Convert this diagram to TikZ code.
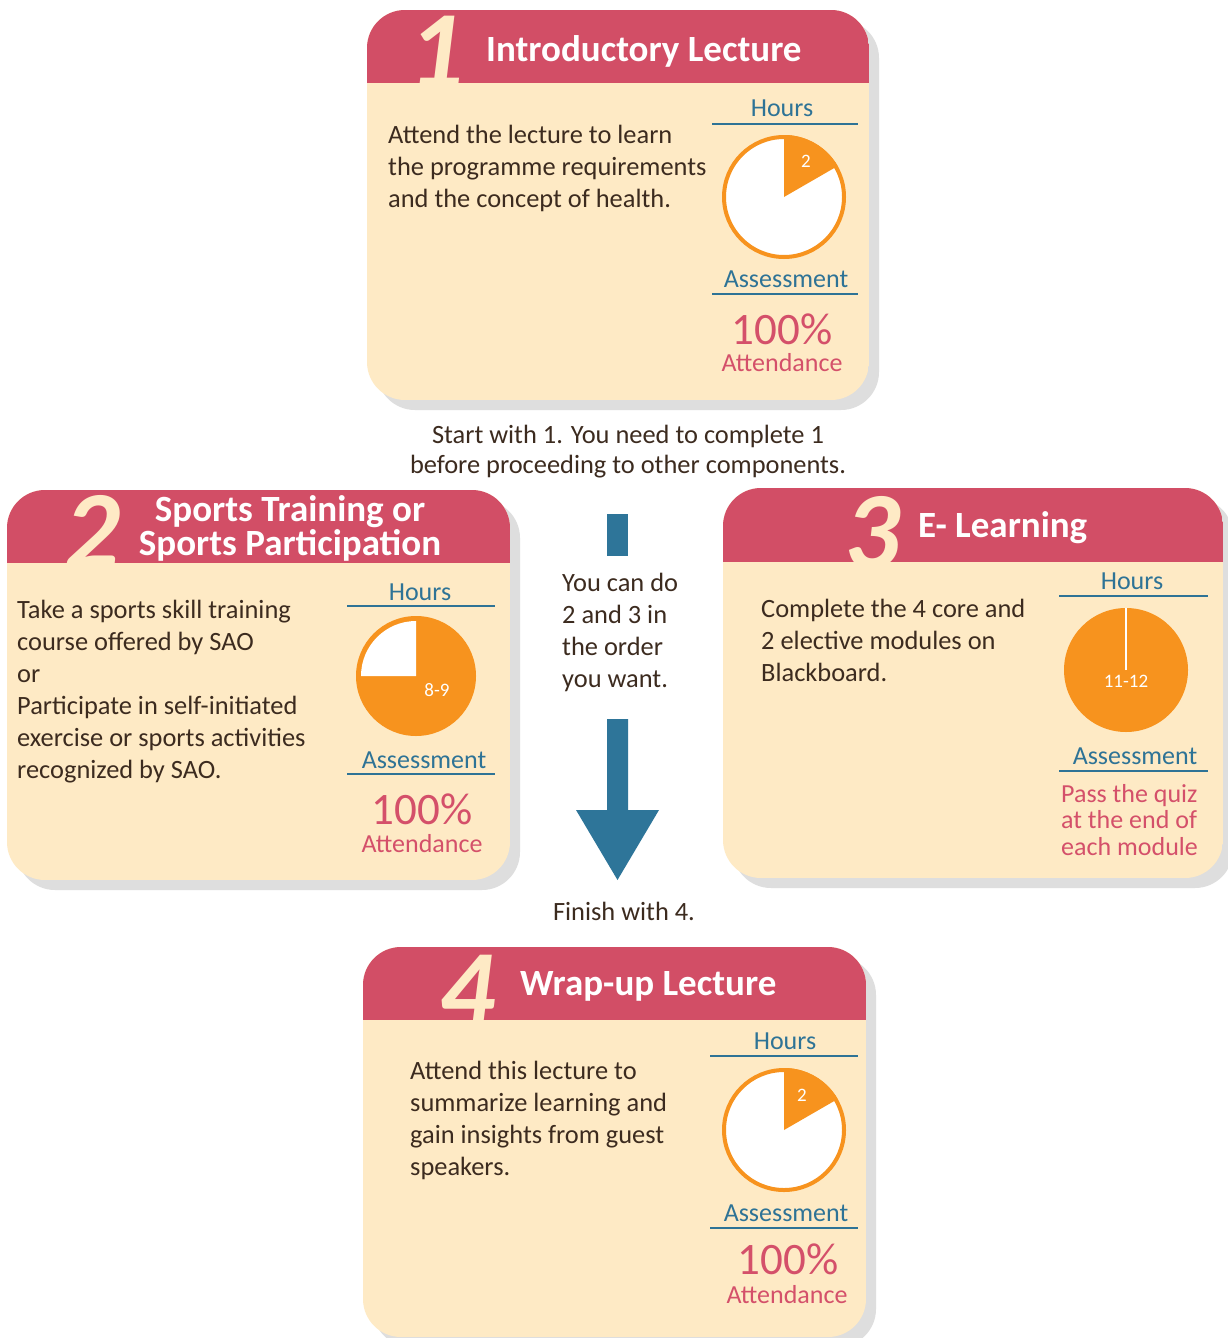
\documentclass[tikz,border=0pt]{standalone}
\usepackage{fontspec}
\setmainfont{Carlito}
\definecolor{headc}{RGB}{210,78,102}
\definecolor{creamc}{RGB}{254,234,197}
\definecolor{shadowc}{RGB}{222,222,222}
\definecolor{bluec}{RGB}{46,115,150}
\definecolor{pinkc}{RGB}{212,80,106}
\definecolor{orangec}{RGB}{247,147,30}
\definecolor{darkc}{RGB}{60,43,31}
\definecolor{arrowc}{RGB}{46,117,153}
\newcommand\mycard[5]{%
  \fill[shadowc, rounded corners=38pt] ({#1+10},{#2+10}) rectangle ({#3+10},{#4+10});
  \begin{scope}
    \clip[rounded corners=38pt] (#1,#2) rectangle (#3,#4);
    \fill[creamc] (#1,#2) rectangle (#3,#4);
    \fill[headc] (#1,#2) rectangle (#3,#5);
  \end{scope}}
\tikzset{
  bignum/.style={anchor=base, inner sep=0pt, text=creamc, font=\fontsize{110}{110}\selectfont\bfseries\itshape},
  titletxt/.style={inner sep=0pt, text=white, font=\fontsize{37}{32}\selectfont\bfseries},
  bodytxt/.style={anchor=base west, inner sep=0pt, align=left, text=darkc, font=\fontsize{26.4}{32}\selectfont},
  labtxt/.style={anchor=base, inner sep=0pt, text=bluec, font=\fontsize{26}{30}\selectfont},
  pcttxt/.style={anchor=base, inner sep=0pt, text=pinkc, font=\fontsize{45}{45}\selectfont},
  atttxt/.style={anchor=base, inner sep=0pt, text=pinkc, font=\fontsize{26}{26}\selectfont},
  pielab/.style={inner sep=0pt, text=white, font=\fontsize{19}{19}\selectfont},
  uline/.style={bluec, line width=2.6pt},
}
\begin{document}
\begin{tikzpicture}[x=1pt,y=-1pt]
\useasboundingbox[fill=white] (0,0) rectangle (1227,1338);

% ---------- Card 1
\mycard{367}{10}{869}{400}{83}
\node[bignum] (n1) at (436,88) {1};
\node[titletxt, anchor=base west] (t1) at (486,62) {Introductory Lecture};
\node[bodytxt] (b1) at (388,207) {Attend the lecture to learn\\the programme requirements\\and the concept of health.};
\node[labtxt] (h1) at (782,116) {Hours};
\draw[uline] (712,124) -- (858,124);
\coordinate (c1) at (784,197);
\draw[orangec, line width=4pt, fill=white] (c1) circle[radius=60];
\fill[orangec] (c1) -- +(270:62) arc[start angle=270, end angle=330, radius=62] -- cycle;
\node[pielab] (p1) at (806,161) {2};
\node[labtxt] (a1) at (786,287) {Assessment};
\draw[uline] (712,294) -- (858,294);
\node[pcttxt] (pc1) at (782,344) {100\%};
\node[atttxt] (at1) at (782,371) {Attendance};

% ---------- middle texts
\node[anchor=base, inner sep=0pt, align=center, text=darkc, font=\fontsize{26.4}{30}\selectfont] (start) at (628,473) {Start with 1. You need to complete 1\\before proceeding to other components.};

% ---------- Card 2
\mycard{7}{490}{510}{880}{563}
\node[bignum] (n2) at (92,567) {2};
\node[titletxt, anchor=base, align=center] (t2) at (290,555) {Sports Training or\\Sports Participation};
\node[bodytxt] (b2) at (17,778) {Take a sports skill training\\course offered by SAO\\or\\Participate in self-initiated\\exercise or sports activities\\recognized by SAO.};
\node[labtxt] (h2) at (420,600) {Hours};
\draw[uline] (347,606) -- (495,606);
\coordinate (c2) at (416,676);
\fill[orangec] (c2) circle[radius=60];
\fill[white] (c2) -- +(180:55) arc[start angle=180, end angle=270, radius=55] -- cycle;
\node[pielab] (p2) at (437,690) {8-9};
\node[labtxt] (a2) at (424,768) {Assessment};
\draw[uline] (347,774) -- (495,774);
\node[pcttxt] (pc2) at (422,824) {100\%};
\node[atttxt] (at2) at (422,852) {Attendance};

% ---------- Card 3
\mycard{723}{488}{1223}{878}{562}
\node[bignum] (n3) at (872,568) {3};
\node[titletxt, anchor=base west] (t3) at (918,537) {E- Learning};
\node[bodytxt] (b3) at (761,681) {Complete the 4 core and\\2 elective modules on\\Blackboard.};
\node[labtxt] (h3) at (1132,589) {Hours};
\draw[uline] (1059,596) -- (1208,596);
\coordinate (c3) at (1126,670);
\fill[orangec] (c3) circle[radius=62];
\draw[white, line width=2.5pt] (c3) -- +(0,-62);
\node[pielab] (p3) at (1126,681) {11-12};
\node[labtxt] (a3) at (1135,764) {Assessment};
\draw[uline] (1059,771) -- (1208,771);
\node[anchor=base west, inner sep=0pt, align=left, text=pinkc, font=\fontsize{26}{26.5}\selectfont] (q3) at (1061,855) {Pass the quiz\\at the end of\\each module};

% ---------- middle arrow and text
\fill[arrowc] (607,514) rectangle (628,556);
\node[bodytxt] (mid) at (562,687) {You can do\\2 and 3 in\\the order\\you want.};
\fill[arrowc] (607,719) -- (628,719) -- (628,810) -- (659,810) -- (617.5,880) -- (576,810) -- (607,810) -- cycle;
\node[anchor=base, inner sep=0pt, text=darkc, font=\fontsize{26.4}{30}\selectfont] (fin) at (624,920) {Finish with 4.};

% ---------- Card 4
\mycard{363}{947}{866}{1337}{1020}
\node[bignum] (n4) at (467,1026) {4};
\node[titletxt, anchor=base west] (t4) at (520,995) {Wrap-up Lecture};
\node[bodytxt] (b4) at (410,1175) {Attend this lecture to\\summarize learning and\\gain insights from guest\\speakers.};
\node[labtxt] (h4) at (785,1049) {Hours};
\draw[uline] (710,1056) -- (858,1056);
\coordinate (c4) at (784,1130);
\draw[orangec, line width=4pt, fill=white] (c4) circle[radius=60];
\fill[orangec] (c4) -- +(270:62) arc[start angle=270, end angle=330, radius=62] -- cycle;
\node[pielab] (p4) at (802,1095) {2};
\node[labtxt] (a4) at (786,1221) {Assessment};
\draw[uline] (710,1228) -- (858,1228);
\node[pcttxt] (pc4) at (788,1274) {100\%};
\node[atttxt] (at4) at (787,1303) {Attendance};
\end{tikzpicture}
\end{document}
